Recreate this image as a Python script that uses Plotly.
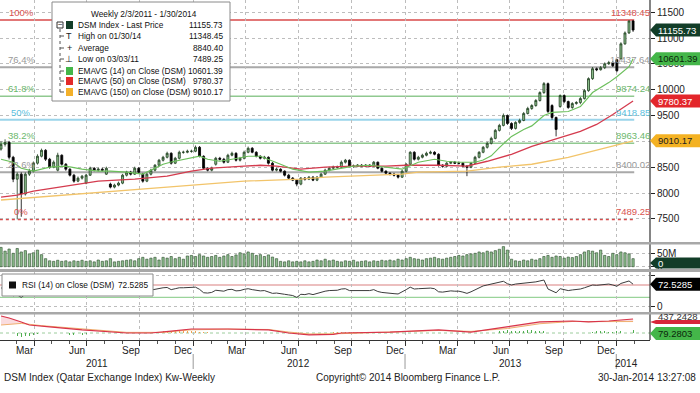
import pandas as pd
import plotly.graph_objects as go

FONT = "Liberation Sans, Arial, sans-serif"

# ---------------- data ----------------
START = "2011-02-03"
N_WEEKS = 157
week_dates = pd.date_range(START, periods=N_WEEKS, freq="7D")

open_ = [8850, 8943, 8981, 8692, 8268, 8365, 7980, 8365, 8423, 8577,
         8712, 8827, 8654, 8500, 8442, 8731, 8557, 8461, 8345, 8230,
         8288, 8191, 8345, 8480, 8442, 8461, 8365, 8172, 8114, 8153,
         8191, 8345, 8403, 8365, 8480, 8365, 8230, 8365, 8442, 8538,
         8635, 8692, 8769, 8577, 8673, 8789, 8789, 8808, 8808, 8885,
         8712, 8480, 8442, 8557, 8673, 8654, 8596, 8731, 8769, 8635,
         8673, 8789, 8866, 8789, 8712, 8673, 8692, 8577, 8442, 8461,
         8423, 8345, 8288, 8249, 8172, 8288, 8268, 8307, 8249, 8307,
         8365, 8442, 8480, 8500, 8500, 8596, 8635, 8519, 8519, 8538,
         8519, 8538, 8519, 8596, 8480, 8423, 8384, 8365, 8345, 8307,
         8423, 8557, 8789, 8654, 8692, 8731, 8769, 8789, 8750, 8538,
         8519, 8577, 8596, 8577, 8577, 8519, 8500, 8577, 8692, 8789,
         8885, 8962, 9058, 9213, 9309, 9502, 9347, 9251, 9367, 9405,
         9540, 9637, 9694, 9791, 9945, 10118, 9694, 9463, 9675, 9887,
         9771, 9656, 9733, 9752, 9829, 9983, 10215, 10407, 10388, 10427,
         10504, 10523, 10581, 10600, 10889, 11101, 11332]
high = [9000, 9040, 9010, 8720, 8400, 8400, 8400, 8470, 8610, 8750,
        8860, 8850, 8680, 8630, 8780, 8750, 8580, 8480, 8370, 8320,
        8350, 8370, 8510, 8500, 8490, 8490, 8510, 8200, 8180, 8220,
        8370, 8430, 8430, 8510, 8500, 8390, 8390, 8470, 8560, 8660,
        8720, 8800, 8790, 8700, 8820, 8820, 8840, 8840, 8920, 8910,
        8730, 8500, 8510, 8700, 8700, 8680, 8760, 8800, 8790, 8700,
        8820, 8900, 8890, 8810, 8730, 8720, 8710, 8600, 8490, 8480,
        8440, 8370, 8310, 8270, 8310, 8310, 8330, 8330, 8330, 8390,
        8470, 8510, 8530, 8530, 8630, 8660, 8650, 8550, 8560, 8560,
        8560, 8560, 8620, 8610, 8500, 8440, 8400, 8390, 8370, 8450,
        8580, 8810, 8810, 8720, 8760, 8800, 8820, 8810, 8770, 8560,
        8600, 8620, 8620, 8610, 8600, 8540, 8600, 8720, 8810, 8910,
        8990, 9090, 9240, 9340, 9540, 9520, 9370, 9390, 9440, 9570,
        9670, 9720, 9820, 9970, 10150, 10140, 9720, 9480, 9910, 9910,
        9790, 9760, 9780, 9860, 10010, 10240, 10440, 10430, 10460, 10530,
        10560, 10560, 10600, 10920, 11130, 11340, 11348.45]
low = [8820, 8900, 8650, 8210, 7489.25, 7540, 7950, 8330, 8400, 8550,
       8690, 8620, 8470, 8480, 8420, 8530, 8430, 8320, 8200, 8210,
       8260, 8170, 8330, 8420, 8420, 8420, 8350, 8090, 8090, 8130,
       8170, 8320, 8340, 8350, 8380, 8200, 8210, 8340, 8420, 8510,
       8610, 8670, 8550, 8560, 8650, 8760, 8770, 8780, 8790, 8690,
       8450, 8420, 8420, 8530, 8630, 8570, 8580, 8710, 8610, 8610,
       8650, 8770, 8770, 8690, 8650, 8650, 8550, 8420, 8420, 8400,
       8320, 8270, 8230, 8130, 8150, 8240, 8250, 8230, 8230, 8290,
       8350, 8420, 8460, 8470, 8480, 8570, 8500, 8490, 8500, 8500,
       8500, 8500, 8500, 8460, 8400, 8360, 8340, 8320, 8280, 8290,
       8400, 8540, 8630, 8630, 8670, 8710, 8750, 8730, 8510, 8490,
       8500, 8560, 8560, 8550, 8500, 8326, 8480, 8560, 8670, 8770,
       8860, 8940, 9040, 9190, 9290, 9320, 9220, 9230, 9340, 9390,
       9520, 9610, 9670, 9770, 9920, 9550, 9420, 9097, 9650, 9740,
       9630, 9630, 9710, 9720, 9810, 9960, 10190, 10360, 10370, 10400,
       10480, 10440, 10340, 10580, 10870, 11080, 11120]
close = [8943, 8981, 8692, 8268, 8365, 7980, 8365, 8423, 8577, 8712,
         8827, 8654, 8500, 8596, 8731, 8557, 8461, 8345, 8230, 8288,
         8326, 8345, 8480, 8442, 8461, 8442, 8480, 8114, 8153, 8191,
         8345, 8403, 8365, 8480, 8403, 8230, 8365, 8442, 8538, 8635,
         8692, 8769, 8577, 8673, 8789, 8789, 8808, 8808, 8885, 8712,
         8480, 8442, 8480, 8673, 8654, 8596, 8731, 8769, 8635, 8673,
         8789, 8866, 8789, 8712, 8673, 8692, 8577, 8442, 8461, 8423,
         8345, 8288, 8249, 8172, 8288, 8268, 8307, 8249, 8307, 8365,
         8442, 8480, 8500, 8500, 8596, 8635, 8519, 8519, 8538, 8519,
         8538, 8519, 8596, 8480, 8423, 8384, 8365, 8345, 8307, 8423,
         8557, 8789, 8654, 8692, 8731, 8769, 8789, 8750, 8538, 8519,
         8577, 8596, 8577, 8577, 8519, 8500, 8577, 8692, 8789, 8885,
         8962, 9058, 9213, 9309, 9502, 9347, 9251, 9367, 9405, 9540,
         9637, 9694, 9791, 9945, 10118, 9579, 9463, 9232, 9887, 9771,
         9656, 9733, 9752, 9829, 9983, 10215, 10407, 10388, 10427, 10504,
         10523, 10465, 10369, 10889, 11101, 11332, 11155.73]
volume_m = [72, 58, 66, 50, 68, 55, 60, 48, 52, 62,
            45, 30, 22, 20, 24, 20, 22, 18, 22, 20,
            24, 20, 22, 18, 25, 20, 22, 30, 18, 20,
            22, 24, 26, 22, 30, 35, 28, 32, 35, 25,
            35, 32, 38, 30, 35, 28, 40, 42, 38, 45,
            40, 35, 38, 42, 35, 40, 45, 38, 44, 52,
            48, 55, 50, 42, 45, 38, 44, 36, 30, 20,
            18, 22, 18, 20, 18, 22, 18, 20, 25, 22,
            28, 22, 25, 20, 18, 22, 20, 24, 18, 20,
            22, 18, 22, 20, 24, 22, 25, 22, 28, 25,
            30, 35, 30, 28, 25, 30, 32, 35, 30, 28,
            32, 35, 38, 42, 40, 45, 48, 50, 55, 52,
            58, 55, 60, 65, 75, 62, 28, 22, 20, 25,
            22, 28, 25, 30, 38, 42, 35, 40, 38, 32,
            36, 34, 38, 45, 55, 60, 58, 52, 62, 42,
            38, 50, 45, 55, 52, 48, 30]
rsi = [60, 62, 45, 35, 38, 30, 40, 45, 52, 57,
       60, 55, 50, 53, 57, 52, 48, 45, 42, 44,
       46, 47, 52, 51, 52, 51, 53, 40, 42, 44,
       50, 53, 51, 55, 52, 46, 51, 54, 57, 60,
       61, 62, 55, 58, 61, 61, 61, 61, 63, 56,
       45, 44, 46, 53, 52, 50, 55, 56, 51, 52,
       56, 58, 55, 52, 51, 52, 47, 43, 44, 43,
       40, 38, 36, 30, 40, 39, 42, 39, 43, 46,
       50, 52, 53, 53, 57, 58, 52, 52, 53, 52,
       53, 52, 55, 49, 46, 44, 43, 42, 41, 47,
       55, 63, 57, 58, 59, 60, 60, 58, 48, 47,
       50, 51, 50, 50, 47, 43, 48, 55, 62, 67,
       70, 73, 77, 79, 82, 74, 70, 73, 74, 76,
       77, 78, 80, 83, 86, 57, 52, 45, 58, 55,
       52, 54, 55, 57, 61, 66, 70, 69, 70, 72,
       73, 70, 66, 75, 79, 83, 72.5285]

ema14_idx = [0, 3, 5, 8, 12, 16, 20, 24, 27, 31, 35, 38, 40, 42, 45, 49, 51, 54, 57, 61,
             64, 66, 69, 72, 76, 80, 83, 87, 91, 95, 99, 103, 107, 110, 113, 117, 119, 121, 123, 126,
             129, 131, 134, 136, 140, 143, 146, 150, 152, 155, 156]
ema14_val = [8654, 8596, 8480, 8423, 8500, 8519, 8461, 8423, 8423, 8403, 8365, 8480, 8557, 8600, 8654, 8712, 8654, 8615, 8654, 8712,
             8712, 8654, 8557, 8461, 8403, 8423, 8461, 8519, 8538, 8500, 8461, 8596, 8654, 8615, 8596, 8596, 8640, 8720, 8880, 9097,
             9230, 9300, 9500, 9560, 9579, 9675, 9945, 10138, 10253, 10446, 10601.39]
ema50_idx = [0, 4, 8, 16, 24, 33, 41, 47, 52, 60, 64, 68, 74, 80, 87, 95, 100, 108, 115, 120,
             126, 131, 135, 139, 143, 147, 151, 156]
ema50_val = [7921, 7960, 8037, 8133, 8230, 8268, 8326, 8423, 8480, 8519, 8538, 8519, 8461, 8500, 8519, 8519, 8538, 8538, 8519, 8615,
             8750, 8904, 9001, 9097, 9193, 9328, 9521, 9780.37]
ema150_idx = [0, 20, 41, 60, 74, 80, 87, 99, 103, 115, 123, 131, 140, 148, 156]
ema150_val = [7864, 7979, 8114, 8230, 8268, 8307, 8326, 8365, 8403, 8423, 8500, 8557, 8692, 8847, 9010.17]

macd_idx = [0, 2, 5, 7, 12, 20, 31, 37, 42, 47, 56, 66, 71, 76, 82, 84, 96, 108, 116, 125,
            133, 141, 145, 150, 156]
macd_val = [530, 470, 345, 250, 190, 95, 0, 0, 60, 125, 125, 95, 0, -60, -45, 0, 30, 95, 30, 190,
            345, 375, 345, 375, 437.2428]
signal_idx = [0, 5, 10, 20, 31, 40, 47, 56, 66, 71, 76, 84, 96, 108, 116, 125, 133, 141, 145, 150, 156]
signal_val = [250, 300, 230, 120, 20, 20, 100, 120, 110, 30, -30, -20, 20, 80, 50, 140, 290, 360, 355, 350, 358]

hist_green_idx = [4, 5, 6, 7, 8, 9, 17, 18, 19, 20, 21,
                  123, 124, 125, 126, 127, 128, 129, 130, 131, 132, 133, 134, 135,
                  146, 147, 148, 149, 150, 151, 152, 153, 154, 155, 156]
hist_green_val = [-90, -110, -100, -80, -60, -40, -50, -60, -60, -50, -40,
                  60, 70, 80, 70, 60, 60, 70, 80, 80, 70, 60, 60, 40,
                  40, 50, 50, 50, 40, 40, 50, 60, 80, 100, 79.2803]
hist_orange_idx = [39, 40, 41, 42, 43, 44, 45, 46, 47, 48, 49, 50, 51,
                   82, 83, 84, 85, 86, 87, 88, 89]
hist_orange_val = [40, 50, 60, 70, 70, 80, 80, 70, 60, 50, 40, 30, 20,
                   30, 40, 40, 40, 30, 30, 20, 20]

fib_levels = [11348.45, 10437.64, 9874.24, 9418.85, 8963.46, 8400.02, 7489.25]
fib_pct = ["100%", "76.4%", "61.8%", "50%", "38.2%", "23.6%", "0%"]
fib_text = ["11348.45", "10437.64", "9874.24", "9418.85", "8963.46", "8400.02", "7489.25"]

price_ticks = [7500, 8000, 8500, 9000, 9500, 10000, 10500, 11000, 11500]

month_label_dates = ["2011-03-16", "2011-06-15", "2011-09-15", "2011-12-15",
                     "2012-03-16", "2012-06-15", "2012-09-15", "2012-12-15",
                     "2013-03-16", "2013-06-15", "2013-09-15", "2013-12-15"]
month_labels = ["Mar", "Jun", "Sep", "Dec"] * 3
year_label_dates = ["2011-07-18", "2012-07-01", "2013-07-02", "2014-01-18"]
year_labels = ["2011", "2012", "2013", "2014"]
year_breaks = ["2012-01-01", "2013-01-01", "2014-01-01"]
quarter_ticks = ["2011-04-01", "2011-07-01", "2011-10-01", "2012-01-01", "2012-04-01", "2012-07-01",
                 "2012-10-01", "2013-01-01", "2013-04-01", "2013-07-01", "2013-10-01", "2014-01-01"]

# ---------------- geometry helpers ----------------
W_PLOT, H_PLOT = 650.0, 340.0
P_RANGE = [7051.0, 11738.2]
V_RANGE = [-8.6e6, 84.7e6]
R_RANGE = [-17.1, 111.9]
M_RANGE = [-218.75, 593.75]


def px(x):
    return x / W_PLOT


def py(y):
    return (H_PLOT - y) / H_PLOT


def price_px(v):
    return (P_RANGE[1] - v) / (P_RANGE[1] - P_RANGE[0]) * 242.0


def rsi_px(v):
    return 272 + (R_RANGE[1] - v) / (R_RANGE[1] - R_RANGE[0]) * 40.0


def macd_px(v):
    return 314 + (M_RANGE[1] - v) / (M_RANGE[1] - M_RANGE[0]) * 26.0


def sel(idx):
    return [week_dates[i] for i in idx]


DAY_MS = 86400000
LEG_SIZE = 8.3

fig = go.Figure()

# ---------------- traces ----------------
fig.add_trace(go.Candlestick(
    x=week_dates, open=open_, high=high, low=low, close=close,
    increasing=dict(line=dict(color="#1f3d1f", width=0.8), fillcolor="#8cc08c"),
    decreasing=dict(line=dict(color="#000000", width=0.8), fillcolor="#000000"),
    whiskerwidth=0, xaxis="x", yaxis="y", hoverinfo="skip"))
fig.add_trace(go.Scatter(x=sel(ema150_idx), y=ema150_val, mode="lines",
                         line=dict(color="#f2c46a", width=1.3), yaxis="y"))
fig.add_trace(go.Scatter(x=sel(ema50_idx), y=ema50_val, mode="lines",
                         line=dict(color="#d43b4e", width=1.3), yaxis="y"))
fig.add_trace(go.Scatter(x=sel(ema14_idx), y=ema14_val, mode="lines",
                         line=dict(color="#6cbf5c", width=1.2), yaxis="y"))

fig.add_trace(go.Bar(x=week_dates, y=[v * 1e6 for v in volume_m], yaxis="y2",
                     width=4.0 * DAY_MS,
                     marker=dict(color="#8fbf8f", line=dict(color="#2a4a2a", width=0.6))))

fig.add_trace(go.Scatter(x=week_dates, y=rsi, mode="lines", yaxis="y3",
                         line=dict(color="#3c3c3c", width=1)))

fig.add_trace(go.Bar(x=sel(hist_green_idx), y=hist_green_val, yaxis="y4", width=1.6 * DAY_MS,
                     marker=dict(color="#4fae4f", line=dict(width=0))))
fig.add_trace(go.Bar(x=sel(hist_orange_idx), y=hist_orange_val, yaxis="y4", width=1.6 * DAY_MS,
                     marker=dict(color="#f0a050", line=dict(width=0))))
fig.add_trace(go.Scatter(x=sel(signal_idx), y=signal_val, mode="lines", yaxis="y4",
                         line=dict(color="#f0b070", width=1)))
fig.add_trace(go.Scatter(x=sel(macd_idx), y=macd_val, mode="lines", yaxis="y4",
                         fill="tonexty", fillcolor="rgba(240,140,150,0.30)",
                         line=dict(color="#d8344a", width=1.2)))

# ---------------- shapes ----------------
shapes = []
fib_colors = ["#d94a4a", "#a9a9a9", "#90c990", "#9ad4ea", "#90c990", "#a9a9a9", "#d94a4a"]
fib_text_colors = ["#d9534f", "#999999", "#6cb86c", "#5bc0de", "#6cb86c", "#999999", "#d9534f"]
fib_widths = [1.5, 2, 1.6, 2, 1.6, 2, 2]
for i, lvl in enumerate(fib_levels):
    shapes.append(dict(type="line", xref="x", yref="y", x0="2011-02-01", x1="2014-02-01",
                       y0=lvl, y1=lvl, layer="below",
                       line=dict(color=fib_colors[i], width=fib_widths[i],
                                 dash="dot" if i == len(fib_levels) - 1 else "solid")))

shapes.append(dict(type="line", xref="paper", yref="y3", x0=0, x1=1, y0=70, y1=70,
                   line=dict(color="#d98080", width=1.2), layer="below"))
shapes.append(dict(type="line", xref="paper", yref="y3", x0=0, x1=1, y0=30, y1=30,
                   line=dict(color="#9ad49a", width=1.2), layer="below"))
shapes.append(dict(type="line", xref="paper", yref="y4", x0=0, x1=1, y0=0, y1=0,
                   line=dict(color="#9ccc9c", width=1, dash="dot"), layer="below"))

for d in year_breaks:
    shapes.append(dict(type="line", xref="x", yref="paper", x0=d, x1=d, y0=py(354), y1=py(369),
                       line=dict(color="#999999", width=1)))

shapes.append(dict(type="line", xref="paper", yref="paper", x0=1, x1=1, y0=0, y1=1,
                   line=dict(color="#333333", width=1.2), layer="above"))

for (y0, y1) in [(242, 244.5), (269, 272), (312, 314.5)]:
    shapes.append(dict(type="rect", xref="paper", yref="paper", x0=0, x1=px(700), y0=py(y1), y1=py(y0),
                       fillcolor="#a8a8a8", line=dict(width=0), layer="above"))

shapes.append(dict(type="rect", xref="paper", yref="paper", x0=px(52), x1=px(230), y0=py(101), y1=py(2),
                   fillcolor="white", line=dict(color="#8a8a8a", width=1), layer="above"))
shapes.append(dict(type="line", xref="paper", yref="paper", x0=px(60), x1=px(60), y0=py(92), y1=py(28),
                   line=dict(color="#555555", width=1, dash="dot"), layer="above"))
row_y = [25, 36, 48, 59, 71, 81, 92]
for ry in row_y[1:]:
    shapes.append(dict(type="line", xref="paper", yref="paper", x0=px(60), x1=px(64), y0=py(ry), y1=py(ry),
                       line=dict(color="#555555", width=1), layer="above"))
shapes.append(dict(type="rect", xref="paper", yref="paper", x0=px(57), x1=px(63), y0=py(28), y1=py(22),
                   fillcolor="white", line=dict(color="#333333", width=1), layer="above"))
legend_sq = [(25, "#123d28"), (71, "#44b649"), (81, "#e32a2a"), (92, "#f3b02a")]
for ry, col in legend_sq:
    shapes.append(dict(type="rect", xref="paper", yref="paper", x0=px(66), x1=px(73), y0=py(ry + 4), y1=py(ry - 4),
                       fillcolor=col, line=dict(width=0), layer="above"))

shapes.append(dict(type="rect", xref="paper", yref="paper", x0=px(2), x1=px(153), y0=py(296), y1=py(274),
                   fillcolor="white", line=dict(color="#8a8a8a", width=1), layer="above"))
shapes.append(dict(type="rect", xref="paper", yref="paper", x0=px(9), x1=px(16), y0=py(288.5), y1=py(281.5),
                   fillcolor="#111111", line=dict(width=0), layer="above"))

annotations = []


def flag(yc, text, bg, fg, h=13):
    shapes.append(dict(type="path", xref="paper", yref="paper",
                       path=(f"M {px(650)},{py(yc)} L {px(656)},{py(yc - h / 2)} L {px(702)},{py(yc - h / 2)} "
                             f"L {px(702)},{py(yc + h / 2)} L {px(656)},{py(yc + h / 2)} Z"),
                       fillcolor=bg, line=dict(width=0), layer="above"))
    if text:
        annotations.append(dict(xref="paper", yref="paper", x=px(656), y=py(yc), text=text,
                                xanchor="left", yanchor="middle", showarrow=False,
                                font=dict(color=fg, size=9.5, family=FONT)))


flag(price_px(close[-1]), "11155.73", "#123d28", "white")
flag(price_px(ema14_val[-1]), "10601.39", "#44b649", "#0b260b")
flag(price_px(ema50_val[-1]), "9780.37", "#e3262b", "white")
flag(price_px(ema150_val[-1]), "9010.17", "#f4b223", "#222222")
flag(263, "0", "#123d28", "white", h=11)
flag(rsi_px(rsi[-1]), "72.5285", "#000000", "white")
flag(macd_px(macd_val[-1]) + 3, "", "#d8263a", "white", h=4)
annotations.append(dict(xref="paper", yref="paper", x=px(656), y=py(316.5), text="437.2428",
                        xanchor="left", yanchor="middle", showarrow=False,
                        font=dict(color="#333333", size=9.5, family=FONT)))
flag(macd_px(hist_green_val[-1]) + 3, "79.2803", "#44b649", "#0b260b")

for i, lvl in enumerate(fib_levels):
    annotations.append(dict(xref="paper", yref="y", x=px(21), y=lvl, text=fib_pct[i], xanchor="center",
                            yanchor="bottom", showarrow=False,
                            font=dict(color=fib_text_colors[i], size=9.5, family=FONT)))
    annotations.append(dict(xref="paper", yref="y", x=px(652), y=lvl, text=fib_text[i], xanchor="right",
                            yanchor="bottom", showarrow=False,
                            font=dict(color=fib_text_colors[i], size=9.5, family=FONT)))

annotations.append(dict(xref="paper", yref="paper", x=px(144), y=py(14), text="Weekly 2/3/2011 - 1/30/2014",
                        xanchor="center", yanchor="middle", showarrow=False,
                        font=dict(color="#111111", size=LEG_SIZE, family=FONT)))
legend_labels = ["DSM Index - Last Price", "High on 01/30/14", "Average", "Low on 03/03/11",
                 "EMAVG (14) on Close (DSM)", "EMAVG (50) on Close (DSM)", "EMAVG (150) on Close (DSM)"]
legend_values = ["11155.73", "11348.45", "8840.40", "7489.25", "10601.39", "9780.37", "9010.17"]
for ry, lab, val in zip(row_y, legend_labels, legend_values):
    annotations.append(dict(xref="paper", yref="paper", x=px(76), y=py(ry), text=lab, xanchor="left",
                            yanchor="middle", showarrow=False, font=dict(color="#111111", size=LEG_SIZE, family=FONT)))
    annotations.append(dict(xref="paper", yref="paper", x=px(225), y=py(ry), text=val, xanchor="right",
                            yanchor="middle", showarrow=False, font=dict(color="#111111", size=LEG_SIZE, family=FONT)))
for ry, glyph in [(36, "T"), (48, "+"), (59, "⊥")]:
    annotations.append(dict(xref="paper", yref="paper", x=px(69), y=py(ry), text=glyph, xanchor="center",
                            yanchor="middle", showarrow=False, font=dict(color="#222222", size=9, family=FONT)))
annotations.append(dict(xref="paper", yref="paper", x=px(60), y=py(25), text="−", xanchor="center",
                        yanchor="middle", showarrow=False, font=dict(color="#222222", size=8, family=FONT)))

annotations.append(dict(xref="paper", yref="paper", x=px(20), y=py(285), text="RSI (14) on Close (DSM)",
                        xanchor="left", yanchor="middle", showarrow=False,
                        font=dict(color="#111111", size=LEG_SIZE, family=FONT)))
annotations.append(dict(xref="paper", yref="paper", x=px(150), y=py(285), text="72.5285",
                        xanchor="right", yanchor="middle", showarrow=False,
                        font=dict(color="#111111", size=LEG_SIZE, family=FONT)))

for d, lab in zip(month_label_dates, month_labels):
    annotations.append(dict(xref="x", yref="paper", x=d, y=py(350.5), text=lab, xanchor="center",
                            yanchor="middle", showarrow=False, font=dict(color="#222222", size=10, family=FONT)))
for d, lab in zip(year_label_dates, year_labels):
    annotations.append(dict(xref="x", yref="paper", x=d, y=py(363.5), text=lab, xanchor="center",
                            yanchor="middle", showarrow=False, font=dict(color="#222222", size=10, family=FONT)))

annotations.append(dict(xref="paper", yref="paper", x=px(2), y=py(377), text="DSM Index (Qatar Exchange Index) Kw-Weekly",
                        xanchor="left", yanchor="middle", showarrow=False,
                        font=dict(color="#222222", size=10, family=FONT)))
annotations.append(dict(xref="paper", yref="paper", x=px(314), y=py(377), text="Copyright© 2014 Bloomberg Finance L.P.",
                        xanchor="left", yanchor="middle", showarrow=False,
                        font=dict(color="#222222", size=10, family=FONT)))
annotations.append(dict(xref="paper", yref="paper", x=px(698), y=py(377), text="30-Jan-2014 13:27:08",
                        xanchor="right", yanchor="middle", showarrow=False,
                        font=dict(color="#222222", size=10, family=FONT)))

grid = dict(showgrid=True, gridcolor="#bdbdbd", griddash="dot", gridwidth=1)

fig.update_layout(
    width=700, height=393,
    margin=dict(l=0, r=50, t=0, b=53, pad=0),
    paper_bgcolor="white", plot_bgcolor="white",
    showlegend=False, bargap=0,
    font=dict(family=FONT, size=10, color="#222222"),
    xaxis=dict(type="date", range=["2011-02-01 06:00", "2014-02-28 06:00"], anchor="y4",
               rangeslider=dict(visible=False), tickvals=quarter_ticks, showticklabels=False,
               ticks="outside", ticklen=5, tickcolor="#333333",
               minor=dict(dtick="M1", tick0="2011-01-01", ticks="outside", ticklen=3,
                          tickcolor="#555555", showgrid=False),
               showline=True, linecolor="#333333", zeroline=False, **grid),
    yaxis=dict(domain=[py(242), 1], range=P_RANGE, side="right", anchor="x",
               tickvals=price_ticks, ticktext=[str(v) for v in price_ticks],
               ticks="outside", ticklen=4, tickcolor="#222222", tickfont=dict(size=10, color="#222222"),
               showline=False, zeroline=False, **grid),
    yaxis2=dict(domain=[py(269), py(244)], range=V_RANGE, side="right", anchor="x",
                tickvals=[0, 50e6], ticktext=["0", "50M"], ticks="outside", ticklen=4,
                tickcolor="#222222", tickfont=dict(size=10, color="#222222"),
                showline=False, zeroline=False, **grid),
    yaxis3=dict(domain=[py(312), py(272)], range=R_RANGE, side="right", anchor="x",
                tickvals=[0, 100], ticktext=["0", ""], ticks="outside", ticklen=4,
                tickcolor="#222222", tickfont=dict(size=10, color="#222222"),
                showline=False, zeroline=False, **grid),
    yaxis4=dict(domain=[0, py(314)], range=M_RANGE, side="right", anchor="x",
                tickvals=[], showline=False, zeroline=False, showgrid=False),
    shapes=shapes,
    annotations=annotations,
)

fig.write_html("out.html", config={"displayModeBar": False, "staticPlot": True},
               post_script="document.body.style.margin='0px';document.body.style.padding='0px';")
